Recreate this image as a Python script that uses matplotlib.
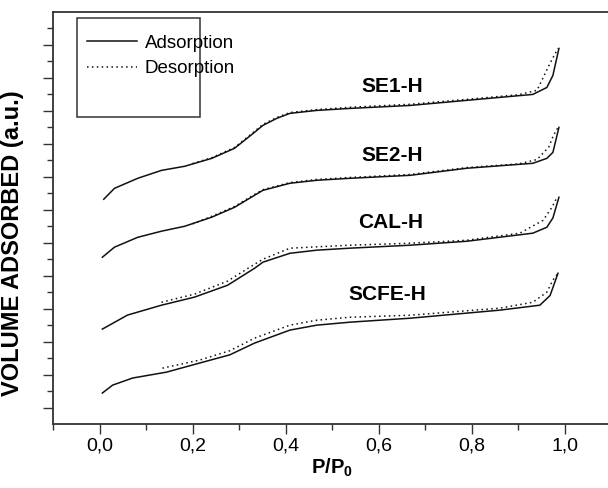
import matplotlib
matplotlib.use('Agg')
import matplotlib.pyplot as plt
from matplotlib.patches import Rectangle
from matplotlib.ticker import FixedLocator

plt.rcParams['font.family'] = ['Liberation Sans', 'DejaVu Sans']
plt.rcParams['mathtext.fontset'] = 'custom'
plt.rcParams['mathtext.bf'] = 'Liberation Sans:bold'
plt.rcParams['mathtext.rm'] = 'Liberation Sans'

# isotherms (relative P/P0, offset volume in a.u.)
se1_ads_x = [0.009, 0.032, 0.082, 0.133, 0.183, 0.241, 0.290, 0.333, 0.351, 0.381, 0.409,
             0.467, 0.538, 0.667, 0.789, 0.931, 0.961, 0.974, 0.987]
se1_ads_y = [13.64, 14.30, 14.91, 15.39, 15.64, 16.12, 16.73, 17.70, 18.12, 18.55, 18.85,
             19.03, 19.15, 19.33, 19.64, 20.00, 20.42, 21.15, 22.79]
se1_des_x = [0.20, 0.241, 0.290, 0.333, 0.351, 0.381, 0.409, 0.467, 0.538, 0.667, 0.789,
             0.900, 0.940, 0.968, 0.985]
se1_des_y = [15.80, 16.16, 16.78, 17.76, 18.18, 18.60, 18.90, 19.08, 19.22, 19.40, 19.70,
             19.98, 20.25, 21.90, 22.79]

se2_ads_x = [0.006, 0.032, 0.082, 0.133, 0.183, 0.241, 0.290, 0.333, 0.351, 0.409, 0.467,
             0.538, 0.667, 0.789, 0.931, 0.961, 0.974, 0.987]
se2_ads_y = [10.12, 10.73, 11.33, 11.70, 12.00, 12.55, 13.15, 13.88, 14.18, 14.61, 14.79,
             14.91, 15.09, 15.52, 15.82, 16.12, 16.48, 18.00]
se2_des_x = [0.20, 0.241, 0.290, 0.333, 0.351, 0.409, 0.467, 0.538, 0.667, 0.789, 0.900,
             0.940, 0.965, 0.975, 0.985]
se2_des_y = [12.15, 12.60, 13.20, 13.93, 14.22, 14.65, 14.84, 14.96, 15.14, 15.56, 15.78,
             16.05, 16.80, 17.50, 18.00]

cal_ads_x = [0.006, 0.060, 0.133, 0.204, 0.275, 0.333, 0.351, 0.409, 0.467, 0.538, 0.667,
             0.789, 0.931, 0.961, 0.974, 0.987]
cal_ads_y = [5.76, 6.61, 7.21, 7.70, 8.42, 9.45, 9.82, 10.36, 10.55, 10.67, 10.85,
             11.09, 11.58, 11.94, 12.50, 13.76]
cal_des_x = [0.133, 0.204, 0.275, 0.323, 0.351, 0.409, 0.538, 0.667, 0.789, 0.903, 0.953,
             0.972, 0.983]
cal_des_y = [7.39, 7.88, 8.67, 9.52, 10.00, 10.67, 10.85, 10.97, 11.15, 11.58, 12.36,
             13.15, 13.76]

scfe_ads_x = [0.006, 0.028, 0.071, 0.144, 0.215, 0.280, 0.333, 0.409, 0.467, 0.538, 0.667,
              0.860, 0.946, 0.968, 0.985]
scfe_ads_y = [1.88, 2.36, 2.79, 3.15, 3.70, 4.20, 4.91, 5.70, 6.00, 6.18, 6.42,
              6.91, 7.21, 7.80, 9.15]
scfe_des_x = [0.135, 0.215, 0.280, 0.333, 0.409, 0.467, 0.538, 0.667, 0.860, 0.931, 0.961,
              0.974, 0.985]
scfe_des_y = [3.39, 3.88, 4.45, 5.21, 6.00, 6.30, 6.48, 6.60, 7.03, 7.39, 8.00,
              8.73, 9.15]

sample_names = ['SE1-H', 'SE2-H', 'CAL-H', 'SCFE-H']
label_x = [0.628, 0.628, 0.626, 0.619]
label_y = [20.5, 16.3, 12.24, 7.88]

fig = plt.figure(figsize=(6.08, 4.88), dpi=100)
ax = fig.add_axes([0.0872, 0.1311, 0.9186, 0.8443])

dot = (0, (1, 2.2))
ax.plot(se1_ads_x, se1_ads_y, color='#111111', lw=1.1, label='Adsorption')
ax.plot(se1_des_x, se1_des_y, color='#111111', lw=1.1, ls=dot, label='Desorption')
ax.plot(se2_ads_x, se2_ads_y, color='#111111', lw=1.1)
ax.plot(se2_des_x, se2_des_y, color='#111111', lw=1.1, ls=dot)
ax.plot(cal_ads_x, cal_ads_y, color='#111111', lw=1.1)
ax.plot(cal_des_x, cal_des_y, color='#111111', lw=1.1, ls=dot)
ax.plot(scfe_ads_x, scfe_ads_y, color='#111111', lw=1.1)
ax.plot(scfe_des_x, scfe_des_y, color='#111111', lw=1.1, ls=dot)

for name, lx, ly in zip(sample_names, label_x, label_y):
    ax.text(lx, ly, name, fontsize=15, fontweight='bold', ha='center', va='center')

ax.set_xlim(-0.1, 1.1)
ax.set_ylim(0, 25)
ax.xaxis.set_major_locator(FixedLocator([0.0, 0.2, 0.4, 0.6, 0.8, 1.0]))
ax.xaxis.set_minor_locator(FixedLocator([-0.1, 0.1, 0.3, 0.5, 0.7, 0.9]))
ax.set_xticklabels(['0,0', '0,2', '0,4', '0,6', '0,8', '1,0'])
ax.yaxis.set_major_locator(FixedLocator(list(range(1, 25, 2))))
ax.yaxis.set_minor_locator(FixedLocator(list(range(2, 25, 2))))
ax.set_yticklabels([])
ax.tick_params(which='major', direction='out', length=7, width=1, color='#333333',
               labelsize=14, pad=3)
ax.tick_params(which='minor', direction='out', length=4, width=1, color='#333333')
for s in ax.spines.values():
    s.set_linewidth(1.3)
    s.set_color('#333333')

ax.set_xlabel(r'P/P$_\mathbf{0}$', fontsize=14.5, fontweight='bold', labelpad=1)
ax.set_ylabel('VOLUME ADSORBED (a.u.)', fontsize=17, fontweight='bold')
ax.yaxis.set_label_coords(-0.052, 0.44)

ax.add_patch(Rectangle((0.043, 0.745), 0.22, 0.24, transform=ax.transAxes,
                       fill=False, edgecolor='#333333', lw=1.1))
ax.legend(loc='upper left', bbox_to_anchor=(0.06, 0.945), frameon=False, fontsize=13.5,
          handlelength=2.7, handletextpad=0.4, labelspacing=0.45, borderpad=0,
          borderaxespad=0)

fig.savefig('out.png', dpi=100)
